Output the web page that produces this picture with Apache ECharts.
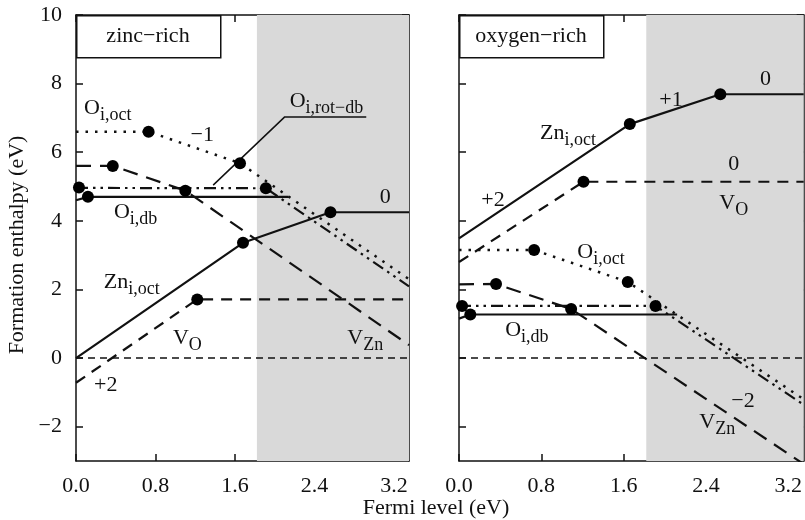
<!DOCTYPE html>
<html>
<head>
<meta charset="utf-8">
<script src="https://cdn.jsdelivr.net/npm/echarts@6/dist/echarts.min.js"></script>
<style>
  html, body { margin: 0; padding: 0; background: #fff; }
  #chart { width: 805px; height: 520px; }
</style>
</head>
<body>
<div id="chart"></div>
<script>
var FONT = 'Liberation Serif';
var INK = '#111';

// axis ranges / ticks
var xMax = 3.35;
var xTicks = [0, 0.8, 1.6, 2.4, 3.2];
var yTicks = [-2, 0, 2, 4, 6, 8, 10];
var gapStart = 1.82;   // grey region start (Fermi level)

// zinc-rich panel, [Fermi level, enthalpy]
var znZnI    = [[0, 0.0], [1.68, 3.36], [2.56, 4.25], [3.35, 4.25]];
var znVO     = [[0, -0.72], [1.22, 1.71], [3.35, 1.71]];
var znVZn    = [[0, 5.6], [0.37, 5.6], [1.10, 4.88], [3.35, 0.38]];
var znOiOct  = [[0, 6.6], [0.73, 6.6], [1.65, 5.68], [3.35, 2.3]];
var znOiRot  = [[0, 4.96], [1.91, 4.95], [3.35, 2.09]];
var znOiDb   = [[0, 4.6], [0.12, 4.7], [2.14, 4.7]];
var znDots   = [[1.68, 3.36], [2.56, 4.25], [1.22, 1.71], [0.37, 5.6], [1.10, 4.88],
                [0.73, 6.6], [1.65, 5.68], [0.03, 4.97], [1.91, 4.95], [0.12, 4.7]];
var znPointer = [[1.38, 5.04], [2.10, 7.03], [2.92, 7.03]];

// oxygen-rich panel
var oZnI     = [[0, 3.49], [1.66, 6.82], [2.54, 7.69], [3.35, 7.69]];
var oVO      = [[0, 2.8], [1.21, 5.14], [3.35, 5.14]];
var oVZn     = [[0, 2.15], [0.36, 2.16], [1.09, 1.43], [3.35, -3.09]];
var oOiOct   = [[0, 3.15], [0.73, 3.15], [1.64, 2.22], [3.35, -1.2]];
var oOiRot   = [[0, 1.52], [1.91, 1.52], [3.35, -1.36]];
var oOiDb    = [[0, 1.15], [0.11, 1.27], [2.12, 1.27]];
var oDots    = [[1.66, 6.82], [2.54, 7.69], [1.21, 5.14], [0.36, 2.16], [1.09, 1.43],
                [0.73, 3.15], [1.64, 2.22], [0.03, 1.52], [1.91, 1.52], [0.11, 1.27]];

var zeroLine = [[0, 0], [3.35, 0]];

// text labels: [x, y, rich text]
var znLabels = [
  [0.32, 7.29, '{m|O}{s|i,oct}'],
  [1.27, 6.50, '{m|−1}'],
  [2.52, 7.49, '{m|O}{s|i,rot−db}'],
  [3.11, 4.69, '{m|0}'],
  [0.60, 4.26, '{m|O}{s|i,db}'],
  [0.56, 2.22, '{m|Zn}{s|i,oct}'],
  [1.12, 0.58, '{m|V}{s|O}'],
  [2.91, 0.58, '{m|V}{s|Zn}'],
  [0.30, -0.79, '{m|+2}']
];
var oLabels = [
  [2.98, 8.12, '{m|0}'],
  [2.06, 7.52, '{m|+1}'],
  [1.06, 6.56, '{m|Zn}{s|i,oct}'],
  [2.67, 5.66, '{m|0}'],
  [2.67, 4.52, '{m|V}{s|O}'],
  [0.33, 4.61, '{m|+2}'],
  [1.38, 3.09, '{m|O}{s|i,oct}'],
  [0.66, 0.82, '{m|O}{s|i,db}'],
  [2.76, -1.27, '{m|−2}'],
  [2.51, -1.88, '{m|V}{s|Zn}']
];

var chart = echarts.init(document.getElementById('chart'));

var rich = {
  m: { fontFamily: FONT, fontSize: 22, color: INK },
  s: { fontFamily: FONT, fontSize: 18, color: INK, padding: [14, 0, 0, 0] }
};

function xAxisFor(grid, pos, labels) {
  return {
    type: 'value', gridIndex: grid, position: pos, min: 0, max: xMax,
    axisLine: { show: true, onZero: false, lineStyle: { color: INK, width: 1.5 } },
    axisTick: { show: true, inside: true, length: 7, customValues: xTicks, lineStyle: { color: INK, width: 1.5 } },
    axisLabel: { show: labels, customValues: xTicks, margin: 14, fontFamily: FONT, fontSize: 22, color: INK,
      formatter: function (v) { return v.toFixed(1); } },
    splitLine: { show: false }
  };
}
function yAxisFor(grid, pos, labels) {
  return {
    type: 'value', gridIndex: grid, position: pos, min: -3, max: 10,
    axisLine: { show: true, onZero: false, lineStyle: { color: INK, width: 1.5 } },
    axisTick: { show: true, inside: true, length: 7, customValues: yTicks, lineStyle: { color: INK, width: 1.5 } },
    axisLabel: { show: labels, customValues: yTicks, margin: 14, fontFamily: FONT, fontSize: 22, color: INK,
      formatter: function (v) { return String(v).replace('-', '−'); } },
    splitLine: { show: false }
  };
}

function line(data, grid, type, width) {
  return {
    type: 'line', xAxisIndex: grid, yAxisIndex: grid === 0 ? 0 : 2, data: data,
    symbol: 'none', z: 3, silent: true,
    lineStyle: { color: INK, width: width || 2.2, type: type || 'solid', opacity: 1 }
  };
}
function dots(data, grid) {
  return {
    type: 'scatter', xAxisIndex: grid, yAxisIndex: grid === 0 ? 0 : 2, data: data,
    symbol: 'circle', symbolSize: 12, z: 5, silent: true,
    itemStyle: { color: '#000', opacity: 1 }
  };
}
function labels(list, grid) {
  return {
    type: 'scatter', xAxisIndex: grid, yAxisIndex: grid === 0 ? 0 : 2, symbolSize: 0, z: 6, silent: true,
    itemStyle: { opacity: 1 },
    data: list.map(function (d) {
      return { value: [d[0], d[1]], label: { formatter: d[2] } };
    }),
    label: { show: true, position: 'inside', align: 'center', verticalAlign: 'middle', opacity: 1, rich: rich }
  };
}
function shade(grid) {
  return {
    type: 'line', xAxisIndex: grid, yAxisIndex: grid === 0 ? 0 : 2, data: [], z: 1, silent: true,
    markArea: { silent: true, itemStyle: { color: '#d9d9d9', opacity: 1 },
      data: [[{ xAxis: gapStart }, { xAxis: xMax }]] }
  };
}

var dashVO = [11, 8];
var dashVZn = [15, 9];
var dotted = [2.5, 7];
var dashDot = [12, 5, 2.5, 5, 2.5, 5];
var dashZero = [7, 5];

var series = [
  shade(0), shade(1),
  line(zeroLine, 0, dashZero, 1.5), line(zeroLine, 1, dashZero, 1.5),

  line(znZnI, 0), line(znVO, 0, dashVO), line(znVZn, 0, dashVZn),
  line(znOiOct, 0, dotted, 2.5), line(znOiRot, 0, dashDot), line(znOiDb, 0),
  line(znPointer, 0, 'solid', 1.5),
  dots(znDots, 0), labels(znLabels, 0),

  line(oZnI, 1), line(oVO, 1, dashVO), line(oVZn, 1, dashVZn),
  line(oOiOct, 1, dotted, 2.5), line(oOiRot, 1, dashDot), line(oOiDb, 1),
  dots(oDots, 1), labels(oLabels, 1)
];

var option = {
  animation: false,
  backgroundColor: '#fff',
  grid: [
    { left: 76, top: 15, width: 333, height: 446 },
    { left: 459, top: 15, width: 347, height: 446 }
  ],
  xAxis: [xAxisFor(0, 'bottom', true), xAxisFor(1, 'bottom', true), xAxisFor(0, 'top', false), xAxisFor(1, 'top', false)],
  yAxis: [yAxisFor(0, 'left', true), yAxisFor(0, 'right', false), yAxisFor(1, 'left', false), yAxisFor(1, 'right', false)],
  series: series,
  graphic: [
    { type: 'rect', left: 76, top: 15, z: 10, shape: { width: 144, height: 42 },
      style: { fill: '#fff', stroke: INK, lineWidth: 1.5 } },
    { type: 'text', x: 148, y: 36, z: 11,
      style: { text: 'zinc−rich', font: '22px "' + FONT + '"', fill: INK, align: 'center', verticalAlign: 'middle' } },
    { type: 'rect', left: 459, top: 15, z: 10, shape: { width: 144, height: 42 },
      style: { fill: '#fff', stroke: INK, lineWidth: 1.5 } },
    { type: 'text', x: 531, y: 36, z: 11,
      style: { text: 'oxygen−rich', font: '22px "' + FONT + '"', fill: INK, align: 'center', verticalAlign: 'middle' } },
    { type: 'text', x: 436, y: 508, z: 11,
      style: { text: 'Fermi level (eV)', font: '22px "' + FONT + '"', fill: INK, align: 'center', verticalAlign: 'middle' } },
    { type: 'text', x: 17, y: 245, rotation: Math.PI / 2, z: 11,
      style: { text: 'Formation enthalpy (eV)', font: '22px "' + FONT + '"', fill: INK, align: 'center', verticalAlign: 'middle' } }
  ]
};

chart.setOption(option);
</script>
</body>
</html>
